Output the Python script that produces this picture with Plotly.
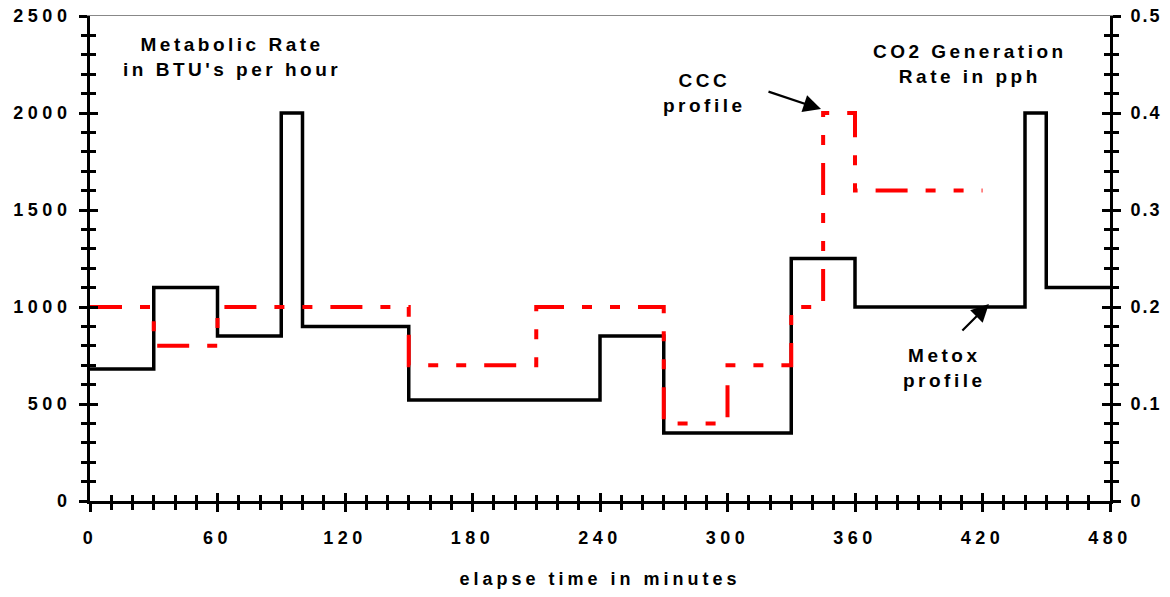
import plotly.graph_objects as go

# ---- data ----
metab_t = [0, 30, 60, 90, 100, 150, 240, 270, 330, 360, 440, 450, 480]
metab_btu = [680, 1100, 850, 2000, 900, 520, 850, 350, 1250, 1000, 2000, 1100, 1100]

co2_t = [0, 30, 60, 150, 210, 270, 300, 330, 345, 360, 420]
co2_pph = [0.2, 0.16, 0.2, 0.14, 0.2, 0.08, 0.14, 0.2, 0.4, 0.32, 0.32]

x_ticks = [0, 60, 120, 180, 240, 300, 360, 420, 480]
y_left_ticks = [0, 500, 1000, 1500, 2000, 2500]
y_right_ticks = [0, 0.1, 0.2, 0.3, 0.4, 0.5]

FONT = "Liberation Sans"
LS_TICK = "letter-spacing:4.5px"
LS_TICK_R = "letter-spacing:2px"
LS_TXT = "letter-spacing:3.5px"


def sp(s, style=LS_TXT):
    return "<br>".join(f'<span style="{style}">{p}</span>' for p in s.split("\n"))


def fmt(v):
    return ("%g" % v)


fig = go.Figure()
fig.add_trace(go.Scatter(x=metab_t, y=metab_btu, mode="lines", line_shape="hv",
                         line=dict(color="black", width=3.5), xaxis="x", yaxis="y",
                         name="Metox profile", showlegend=False))
fig.add_trace(go.Scatter(x=co2_t, y=co2_pph, mode="lines", line_shape="hv",
                         line=dict(color="#ff0000", width=4,
                                   dash="32px,18px,10px,18px,10px,18px"),
                         xaxis="x", yaxis="y2", name="CCC profile", showlegend=False))
# empty traces to anchor the overlay (tick-crossing) axes
for xa, ya in [("x3", "y"), ("x", "y3"), ("x", "y4"), ("x4", "y")]:
    fig.add_trace(go.Scatter(x=[], y=[], xaxis=xa, yaxis=ya, showlegend=False,
                             hoverinfo="skip"))

tickfont = dict(family=FONT, size=18, color="black", weight="bold")
common_tick = dict(tickcolor="black", tickwidth=3)

fig.update_layout(
    width=1154, height=581,
    margin=dict(l=82, r=52, t=8, b=88, autoexpand=False),
    paper_bgcolor="white", plot_bgcolor="white",
    showlegend=False,
    xaxis=dict(range=[0, 480], tickvals=x_ticks,
               ticktext=[sp(fmt(v), LS_TICK) for v in x_ticks],
               ticks="outside", ticklen=8, **common_tick,
               minor=dict(dtick=10, tick0=0, ticks="outside", ticklen=6,
                          tickcolor="black", tickwidth=3, showgrid=False),
               showline=True, linecolor="black", linewidth=3,
               showgrid=False, zeroline=False, tickfont=tickfont,
               ticklabelstandoff=10, automargin=False, ticklabeloverflow="allow",
               title=dict(text=sp("elapse time in minutes", "letter-spacing:4px"),
                          font=dict(family=FONT, size=18, color="black", weight="bold"),
                          standoff=26),
               anchor="y"),
    xaxis3=dict(range=[0, 480], overlaying="x", anchor="y", side="bottom",
                tickvals=x_ticks, showticklabels=False, automargin=False,
                ticks="inside", ticklen=8, **common_tick,
                minor=dict(dtick=10, tick0=0, ticks="inside", ticklen=6,
                           tickcolor="black", tickwidth=3, showgrid=False),
                showline=False, showgrid=False, zeroline=False),
    xaxis4=dict(range=[0, 480], overlaying="x", anchor="y", side="top",
                showticklabels=False, ticks="", showline=True, automargin=False,
                linecolor="#888888", linewidth=1, showgrid=False, zeroline=False),
    yaxis=dict(range=[0, 2500], tickvals=y_left_ticks,
               ticktext=[sp(fmt(v), LS_TICK) for v in y_left_ticks],
               ticks="outside", ticklen=8, **common_tick,
               minor=dict(dtick=100, tick0=0, ticks="outside", ticklen=6,
                          tickcolor="black", tickwidth=3, showgrid=False),
               showline=True, linecolor="black", linewidth=3,
               showgrid=False, zeroline=False, tickfont=tickfont,
               ticklabelstandoff=4, anchor="x", automargin=False,
               ticklabeloverflow="allow"),
    yaxis3=dict(range=[0, 2500], overlaying="y", anchor="x", side="left",
                tickvals=y_left_ticks, showticklabels=False, automargin=False,
                ticks="inside", ticklen=8, **common_tick,
                minor=dict(dtick=100, tick0=0, ticks="inside", ticklen=6,
                           tickcolor="black", tickwidth=3, showgrid=False),
                showline=False, showgrid=False, zeroline=False),
    yaxis2=dict(range=[0, 0.5], overlaying="y", side="right", anchor="x",
                tickvals=y_right_ticks, automargin=False, ticklabeloverflow="allow",
                ticktext=[sp(fmt(v), LS_TICK_R) for v in y_right_ticks],
                ticks="outside", ticklen=8, **common_tick,
                minor=dict(dtick=0.02, tick0=0, ticks="outside", ticklen=6,
                           tickcolor="black", tickwidth=3, showgrid=False),
                showline=True, linecolor="black", linewidth=3,
                showgrid=False, zeroline=False, tickfont=tickfont,
                ticklabelstandoff=6),
    yaxis4=dict(range=[0, 0.5], overlaying="y", side="right", anchor="x",
                tickvals=y_right_ticks, showticklabels=False, automargin=False,
                ticks="inside", ticklen=8, **common_tick,
                minor=dict(dtick=0.02, tick0=0, ticks="inside", ticklen=6,
                           tickcolor="black", tickwidth=3, showgrid=False),
                showline=False, showgrid=False, zeroline=False),
)

afont = dict(family=FONT, size=19, color="black", weight="bold")
fig.add_annotation(x=67, y=2290, xref="x", yref="y", text=sp("Metabolic Rate\nin BTU's per hour"),
                   showarrow=False, font=afont)
fig.add_annotation(x=414, y=2254, xref="x", yref="y", text=sp("CO2 Generation\nRate in pph"),
                   showarrow=False, font=afont)
fig.add_annotation(x=289, y=2104, xref="x", yref="y", text=sp("CCC\nprofile"),
                   showarrow=False, font=afont)
fig.add_annotation(x=402, y=688, xref="x", yref="y", text=sp("Metox\nprofile"),
                   showarrow=False, font=afont)
# arrows
fig.add_annotation(x=344, y=2020, xref="x", yref="y", text="", showarrow=True,
                   ax=-54, ay=-18, arrowhead=2, arrowsize=1.6, arrowwidth=2.2,
                   arrowcolor="black", standoff=0)
fig.add_annotation(x=423, y=1015, xref="x", yref="y", text="", showarrow=True,
                   ax=-28, ay=28, arrowhead=2, arrowsize=1.6, arrowwidth=2.2,
                   arrowcolor="black", standoff=0)

fig.write_html("out.html")
